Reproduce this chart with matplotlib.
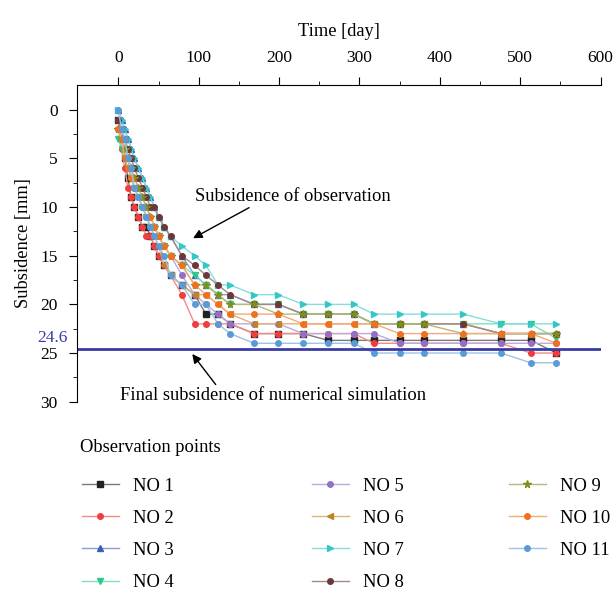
# subsidence observation chart
import numpy as np
import matplotlib.pyplot as plt
from matplotlib.colors import to_rgb

plt.rcParams['font.family'] = ['Liberation Serif', 'DejaVu Serif']

# observation days (same for all points)
days = [0, 4, 8, 12, 16, 20, 25, 30, 35, 40, 45, 50, 57, 65, 79, 95, 109, 124, 139,
        169, 199, 230, 261, 293, 318, 350, 380, 429, 476, 513, 545]

# subsidence values [mm]
no1 = [1, 3, 5, 7, 9, 10, 11, 12, 12, 13, 14, 15, 16, 17, 18, 19, 21, 21, 22,
       23, 23, 23, 23.7, 23.7, 23.7, 23.7, 23.7, 23.7, 23.7, 23.7, 25]
no2 = [2, 4, 6, 8, 9, 10, 11, 12, 13, 13, 14, 15, 16, 17, 19, 22, 22, 22, 22,
       23, 23, 23, 23, 23, 24, 24, 24, 24, 24, 25, 25]
no3 = [0, 1, 2, 3, 4, 5, 6, 7, 8, 9, 10, 11, 12, 13, 15, 17, 18, 19, 19,
       20, 20, 21, 21, 21, 22, 22, 22, 22, 23, 23, 23]
no4 = [3, 4, 5, 6, 7, 8, 9, 10, 11, 12, 12, 13, 14, 15, 16, 17, 18, 19, 20,
       20, 20, 21, 21, 21, 22, 22, 22, 22, 22, 22, 23.5]
no5 = [1, 2, 4, 5, 6, 7, 8, 9, 10, 11, 12, 13, 14, 15, 17, 19, 20, 21, 22,
       22, 22, 23, 23, 23, 23, 24, 24, 24, 24, 24, 24]
no6 = [2, 3, 4, 5, 7, 8, 9, 10, 11, 12, 13, 14, 16, 17, 18, 19, 19, 20, 21,
       22, 22, 22, 22, 22, 22, 22, 22, 22, 23, 23, 23]
no7 = [0, 1, 2, 3, 4, 5, 6, 7, 8, 9, 10, 11, 12, 13, 14, 15, 16, 18, 18,
       19, 19, 20, 20, 20, 21, 21, 21, 21, 22, 22, 22]
no8 = [1, 2, 3, 4, 5, 6, 7, 8, 9, 10, 10, 11, 12, 13, 15, 16, 17, 18, 19,
       20, 20, 21, 21, 21, 22, 22, 22, 22, 23, 23, 23]
no9 = [2, 3, 4, 5, 6, 7, 8, 9, 10, 11, 12, 13, 14, 15, 16, 18, 18, 19, 20,
       20, 21, 21, 21, 21, 22, 22, 22, 23, 23, 23, 23]
no10 = [2, 3, 5, 6, 7, 8, 9, 10, 11, 11, 12, 13, 14, 15, 16, 18, 19, 20, 21,
        21, 21, 22, 22, 22, 22, 23, 23, 23, 23, 23, 24]
no11 = [0, 2, 3, 5, 6, 8, 9, 10, 11, 12, 13, 14, 15, 17, 18, 20, 20, 22, 23,
        24, 24, 24, 24, 24, 25, 25, 25, 25, 25, 26, 26]

names = ["NO 1", "NO 2", "NO 3", "NO 4", "NO 5", "NO 6",
         "NO 7", "NO 8", "NO 9", "NO 10", "NO 11"]
series = [no1, no2, no3, no4, no5, no6, no7, no8, no9, no10, no11]
colors = ["#222222", "#f03c3c", "#3a5fb4", "#2ec98a", "#9470c4", "#c08420",
          "#35c6c6", "#6a3838", "#7f8f1c", "#f07020", "#5b9bd5"]
markers = ["s", "o", "^", "v", "o", "<", ">", "o", "*", "o", "o"]

final_sim = 24.6


def lighter(c, f=0.4):
    r, g, b = to_rgb(c)
    return (r + (1 - r) * f, g + (1 - g) * f, b + (1 - b) * f)


fig = plt.figure(figsize=(6.14, 5.98), dpi=100)
ax = fig.add_axes([0.1259, 0.3283, 0.8524, 0.5296])

handles = []
for name, s, c, m in zip(names, series, colors, markers):
    ms = 5.5 if m == "*" else 4
    h, = ax.plot(days, s, color=lighter(c), lw=1.0, marker=m, ms=ms,
                 markerfacecolor=c, markeredgecolor=c, label=name)
    handles.append(h)

# numerical simulation result
ax.axhline(final_sim, color="#3b3ba6", lw=2)
ax.annotate("24.6", xy=(-0.018, final_sim), xycoords=ax.get_yaxis_transform(),
            xytext=(0, 2), textcoords="offset points",
            ha="right", va="bottom", color="#3b3ba6", fontsize=12.5)

ax.set_xlim(-51, 600)
ax.set_ylim(30, -2.55)
ax.xaxis.tick_top()
ax.xaxis.set_label_position("top")
ax.set_xticks(np.arange(0, 601, 100))
ax.set_xticks(np.arange(50, 600, 100), minor=True)
ax.set_yticks(np.arange(0, 31, 5))
ax.set_yticks(np.arange(2.5, 30, 5), minor=True)
ax.tick_params(which="major", direction="out", length=6, labelsize=12.5, pad=8)
ax.tick_params(which="minor", direction="out", length=3)
ax.spines["right"].set_visible(False)
ax.spines["bottom"].set_visible(False)
ax.set_xlabel("Time [day]", fontsize=13.3, labelpad=10)
ax.set_ylabel("Subsidence [mm]", fontsize=13.3, labelpad=6)

# arrows with notes
ax.annotate("Subsidence of observation", xy=(93, 13.2), xytext=(96, 8.9),
            fontsize=13.3, va="center",
            arrowprops=dict(arrowstyle="-|>", color="black", lw=1,
                            shrinkA=0, shrinkB=0, relpos=(0.3, 0)))
ax.annotate("Final subsidence of numerical simulation", xy=(92, 25.1),
            xytext=(2, 29.4), fontsize=13.3, va="center",
            arrowprops=dict(arrowstyle="-|>", color="black", lw=1,
                            shrinkA=0, shrinkB=0, relpos=(0.32, 1)))

# legend in three columns
fig.text(80 / 614, 1 - 448 / 598, "Observation points", fontsize=13.3, va="center")
cols = [(handles[0:4], 65), (handles[4:8], 295), (handles[8:11], 492)]
for hs, x in cols:
    leg = fig.legend(handles=hs, loc="upper left",
                     bbox_to_anchor=(x / 614, 1 - 461 / 598),
                     frameon=False, fontsize=13.3, handlelength=2.0,
                     handletextpad=0.8, labelspacing=0.82)

plt.savefig("out.png", dpi=100)
plt.close()
